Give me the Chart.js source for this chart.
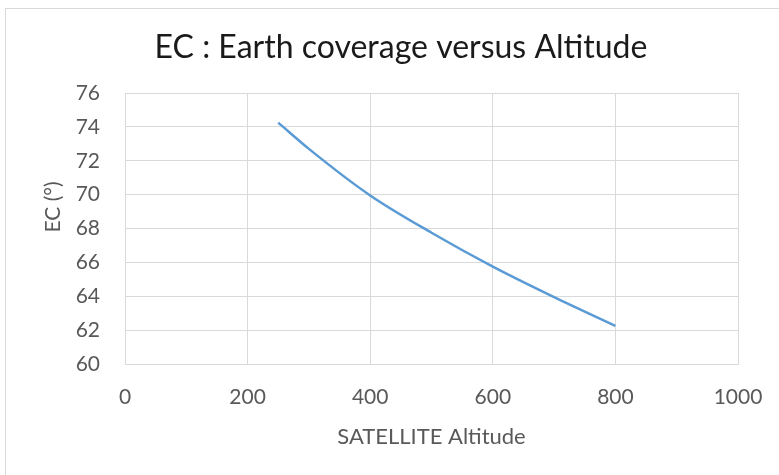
<!DOCTYPE html>
<html>
<head>
<meta charset="utf-8">
<script src="https://cdn.jsdelivr.net/npm/chart.js@4"></script>
<style>
  body { margin: 0; background: #fff; overflow: hidden; }
  #frame { position: absolute; left: 5px; top: 8px; width: 900px; height: 600px; border: 1px solid #d9d9d9; }
  #wrap { position: absolute; left: 0; top: 0; width: 779px; height: 475px; }
</style>
</head>
<body>
<div id="frame"></div>
<div id="wrap"><canvas id="ecChart" width="779" height="475"></canvas></div>
<script>
// altitude (x) and earth coverage angle (y)
const altitude = [250, 300, 400, 500, 600, 700, 800];
const coverage = [74.25, 72.7, 69.95, 67.75, 65.75, 63.95, 62.25];
const xTicks = [0, 200, 400, 600, 800, 1000];
const yTicks = [60, 62, 64, 66, 68, 70, 72, 74, 76];

const gray = '#595959';
const gridColor = '#d9d9d9';

const ctx = document.getElementById('ecChart').getContext('2d');
const ecChart = new Chart(ctx, {
  type: 'line',
  data: {
    datasets: [
      {
        label: 'EC',
        data: altitude.map((a, i) => ({ x: a, y: coverage[i] })),
        borderColor: '#5b9bd5',
        borderWidth: 2.5,
        pointRadius: 0,
        fill: false,
        cubicInterpolationMode: 'monotone',
      },
    ],
  },
  options: {
    responsive: false,
    animation: false,
    layout: { padding: { left: 64, right: 41, top: 0, bottom: 0 } },
    plugins: {
      legend: { display: false },
      tooltip: { enabled: false },
      title: {
        display: true,
        text: 'EC : Earth coverage versus Altitude',
        color: '#1a1a1a',
        font: { family: 'Lato', size: 32, weight: 'normal' },
        padding: { top: 28, bottom: 26.6 },
      },
    },
    scales: {
      x: {
        type: 'linear',
        min: xTicks[0],
        max: xTicks[xTicks.length - 1],
        afterBuildTicks: (scale) => { scale.ticks = xTicks.map((v) => ({ value: v })); },
        afterFit: (scale) => {
          scale.height = 111;
          // the last label may hang past the plot edge, as in the original
          scale.paddingRight = 0;
        },
        grid: { color: gridColor, drawTicks: false },
        border: { color: gridColor },
        ticks: {
          color: gray,
          padding: 21,
          font: { family: 'Lato', size: 21 },
          callback: (v) => String(v),
        },
        title: {
          display: true,
          text: 'SATELLITE Altitude',
          color: gray,
          font: { family: 'Lato', size: 22 },
          padding: 25,
        },
      },
      y: {
        min: yTicks[0],
        max: yTicks[yTicks.length - 1],
        afterBuildTicks: (scale) => { scale.ticks = yTicks.map((v) => ({ value: v })); },
        afterFit: (scale) => { scale.width = 61; },
        grid: { color: gridColor, drawTicks: false },
        border: { color: gridColor },
        ticks: {
          color: gray,
          padding: 25,
          font: { family: 'Lato', size: 21 },
          callback: (v) => String(v),
        },
        title: {
          display: true,
          // leading spaces lift the label a little, as in the original
          text: '        EC (°)',
          color: gray,
          font: { family: 'Lato', size: 21 },
          padding: { top: -23.6, bottom: 0 },
        },
      },
    },
  },
});
</script>
</body>
</html>
